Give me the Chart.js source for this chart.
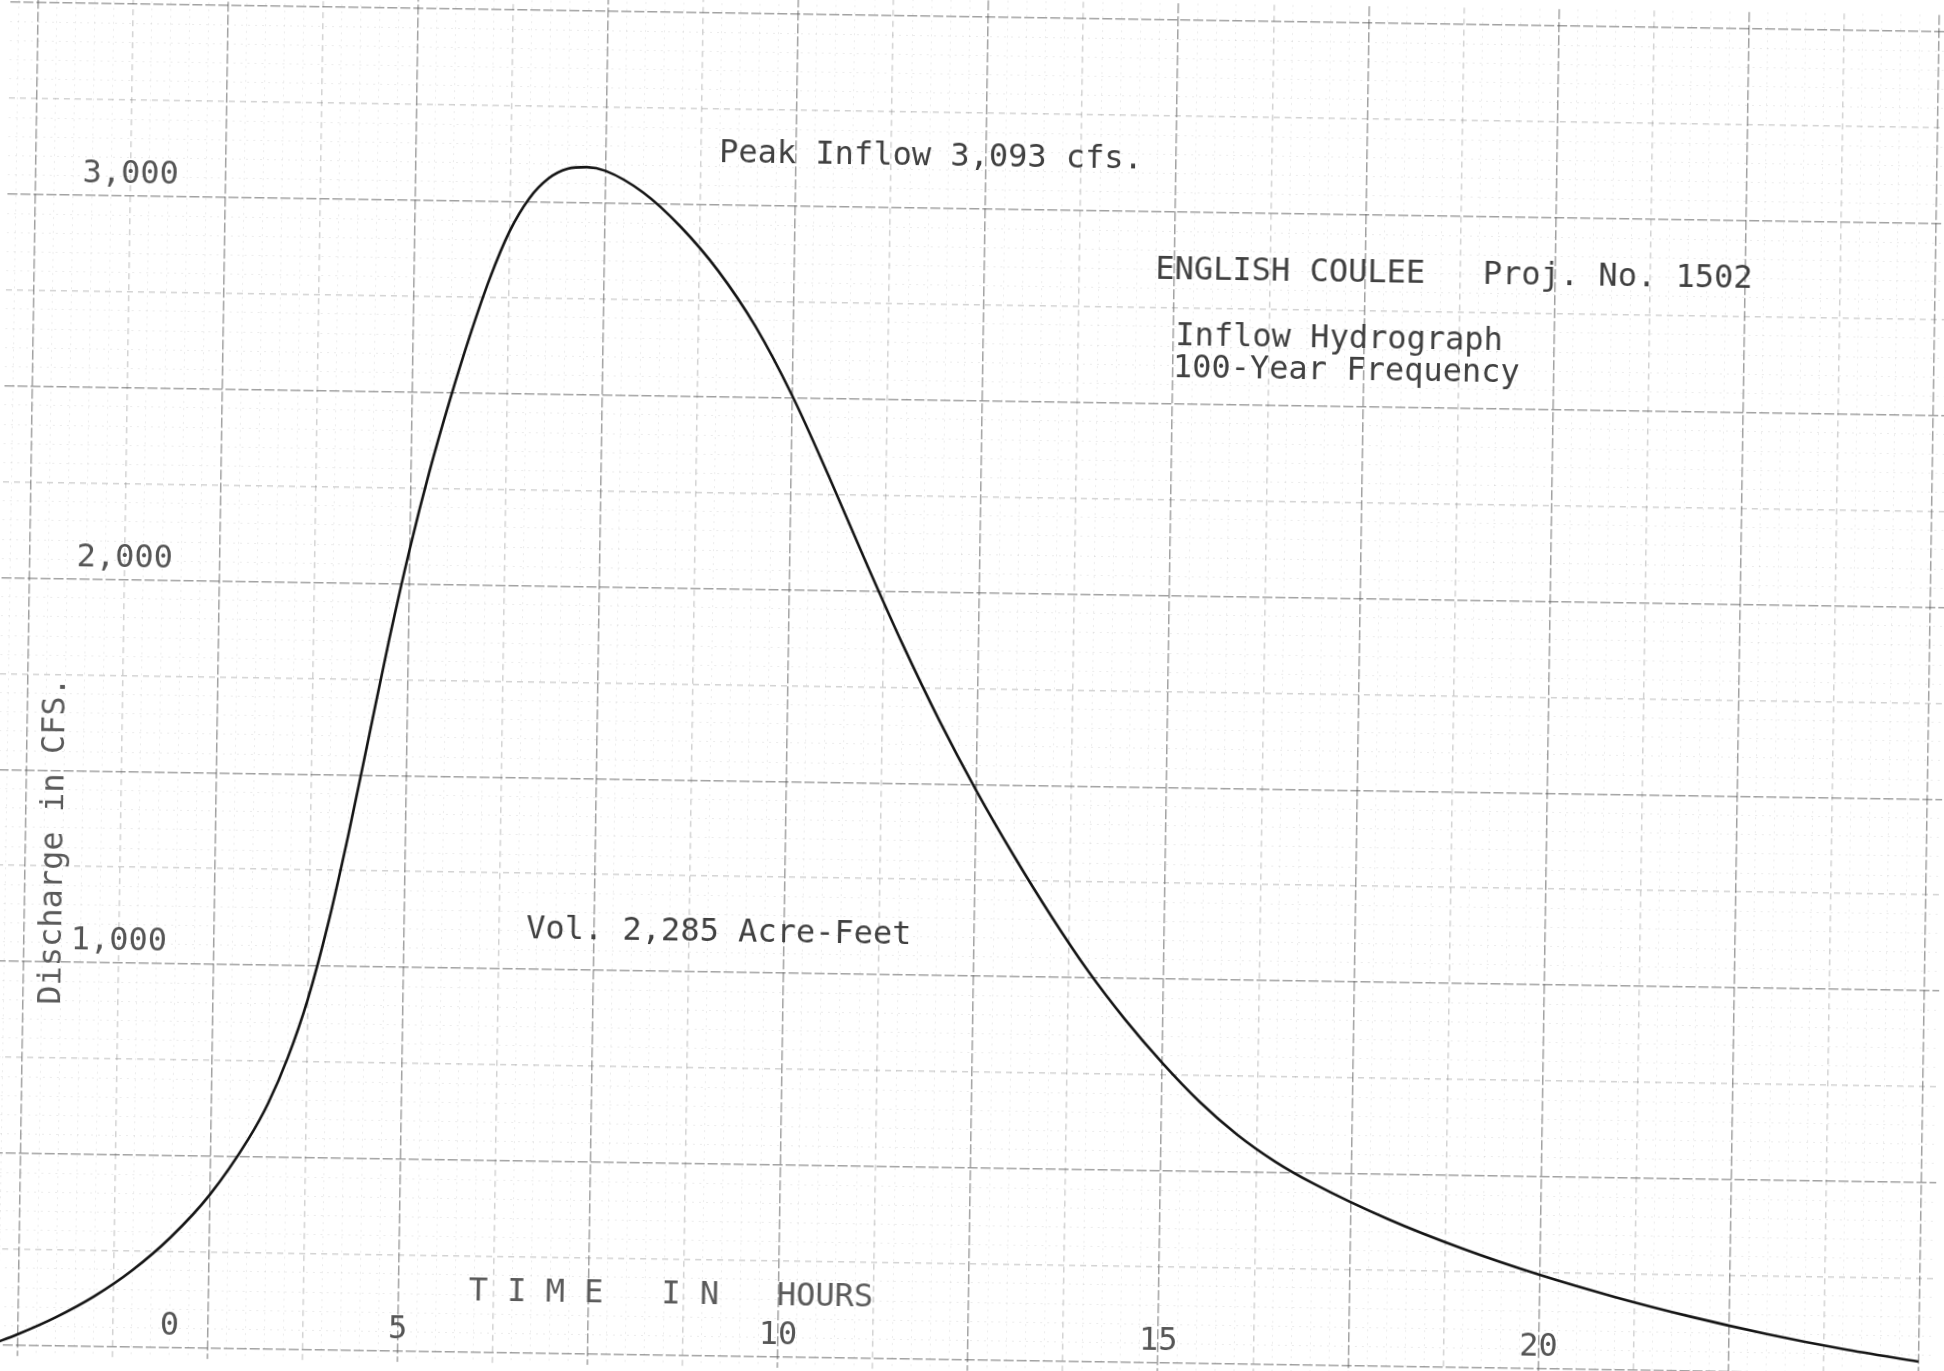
<!DOCTYPE html>
<html>
<head>
<meta charset="utf-8">
<title>English Coulee - Inflow Hydrograph</title>
<script src="https://cdn.jsdelivr.net/npm/chart.js@4.4.1/dist/chart.umd.min.js"></script>
<style>
  html, body { margin: 0; padding: 0; background: #fff; overflow: hidden; }
  /* the scanned sheet sits slightly askew */
  #sheet { width: 1944px; height: 1371px; transform: rotate(0.88deg); transform-origin: 50% 50%; }
</style>
</head>
<body>
<div id="sheet"><canvas id="hydrograph" width="1944" height="1371"></canvas></div>
<script>
// hydrograph (time in hours, discharge in cfs)
const hours = [-0.3, 0, 0.5, 1, 1.5, 2, 2.5, 3, 3.25, 3.5, 3.75, 4, 4.25, 4.5, 4.75, 5, 5.25, 5.5,
  5.75, 6, 6.25, 6.5, 6.75, 7, 7.25, 7.5, 8, 8.5, 9, 9.5, 10, 10.5, 11, 11.5, 12, 12.5, 13, 13.5,
  14, 14.5, 15, 15.5, 16, 16.5, 17, 18, 19, 20, 21, 22, 23, 24, 25];
const discharge = [4, 28, 74, 130, 200, 288, 399, 547, 640, 760, 912, 1108, 1342, 1598, 1855, 2090,
  2298, 2482, 2650, 2800, 2923, 3009, 3062, 3088, 3093, 3084, 3029, 2941, 2828, 2685, 2505, 2295,
  2075, 1862, 1664, 1483, 1317, 1162, 1019, 893, 781, 681, 597, 529, 474, 383, 308, 244, 189, 141,
  99, 63, 33];

// typed axis labels (the "0" was typed at the 2-hour line on the original)
const xTickValues = [2, 5, 10, 15, 20];
const xTickLabels = ["0", "5", "10", "15", "20"];
const yTickValues = [1000, 2000, 3000];
const yTickLabels = ["1,000", "2,000", "3,000"];

const typeFace = "'DejaVu Sans Mono', 'Liberation Mono', monospace";
const inkText = "#404040";

function onStep(v, step) {
  return Math.abs(v / step - Math.round(v / step)) < 1e-6;
}

// graph paper: heavy, medium and fine rulings
function paperColor(v, heavy, medium) {
  if (onStep(v, heavy)) return "rgba(70,70,70,0.5)";
  if (onStep(v, medium)) return "rgba(110,110,110,0.3)";
  return "rgba(140,140,140,0.17)";
}
function paperDash(v, heavy, medium) {
  if (onStep(v, heavy)) return [10, 3];
  return onStep(v, medium) ? [6, 5] : [2, 5];
}

const typedNotes = {
  id: "typedNotes",
  afterDatasetsDraw(chart) {
    const ctx = chart.ctx;
    ctx.save();
    ctx.font = "32px " + typeFace;
    ctx.fillStyle = inkText;
    ctx.textBaseline = "middle";
    ctx.textAlign = "left";
    ctx.fillText("Peak Inflow 3,093 cfs.", 711, 158);
    ctx.fillText("ENGLISH COULEE   Proj. No. 1502", 1149, 268);
    ctx.fillText("Inflow Hydrograph", 1170, 334);
    ctx.fillText("100-Year Frequency", 1168, 366);
    ctx.fillText("Vol. 2,285 Acre-Feet", 530, 937);
    ctx.fillStyle = "#5a5a5a";
    ctx.fillText("T I M E   I N   HOURS", 478, 1300);
    ctx.translate(57, 855);
    ctx.rotate(-Math.PI / 2);
    ctx.textAlign = "center";
    ctx.fillText("Discharge in CFS.", 0, 0);
    ctx.restore();
  }
};

new Chart(document.getElementById("hydrograph").getContext("2d"), {
  type: "line",
  data: {
    datasets: [
      {
        label: "Inflow",
        data: hours.map((h, i) => ({ x: h, y: discharge[i] })),
        borderColor: "#151515",
        borderWidth: 2.6,
        pointRadius: 0,
        fill: false,
        cubicInterpolationMode: "monotone",
      },
    ],
  },
  options: {
    responsive: false,
    animation: false,
    devicePixelRatio: 1,
    layout: { padding: 0 },
    scales: {
      x: {
        type: "linear",
        position: { y: 54 },
        min: -0.36,
        max: 25.2,
        grid: {
          drawTicks: false,
          color: (c) => paperColor(c.tick.value, 2.5, 1.25),
          lineWidth: (c) => (onStep(c.tick.value, 1.25) ? 1.5 : 1),
        },
        border: { display: false, dash: (c) => paperDash(c.tick.value, 2.5, 1.25) },
        ticks: {
          stepSize: 0.25,
          maxTicksLimit: 1000,
          includeBounds: false,
          autoSkip: false,
          maxRotation: 0,
          padding: 0,
          color: "#555",
          font: { family: typeFace, size: 32, lineHeight: 0.01 },
          callback: (v) => {
            const i = xTickValues.indexOf(v);
            return i < 0 ? "" : xTickLabels[i];
          },
        },
      },
      y: {
        type: "linear",
        position: { x: 1.89 },
        min: -29,
        max: 3544,
        grid: {
          drawTicks: false,
          color: (c) => paperColor(c.tick.value, 500, 250),
          lineWidth: (c) => (onStep(c.tick.value, 250) ? 1.5 : 1),
        },
        border: { display: false, dash: (c) => paperDash(c.tick.value, 500, 250) },
        ticks: {
          stepSize: 50,
          maxTicksLimit: 1000,
          includeBounds: false,
          autoSkip: false,
          padding: 0,
          labelOffset: -21,
          color: "#555",
          font: { family: typeFace, size: 32, lineHeight: 0.01 },
          callback: (v) => {
            const i = yTickValues.indexOf(v);
            return i < 0 ? "" : yTickLabels[i];
          },
        },
      },
    },
    plugins: {
      legend: { display: false },
      tooltip: { enabled: false },
    },
  },
  plugins: [typedNotes],
});
</script>
</body>
</html>
